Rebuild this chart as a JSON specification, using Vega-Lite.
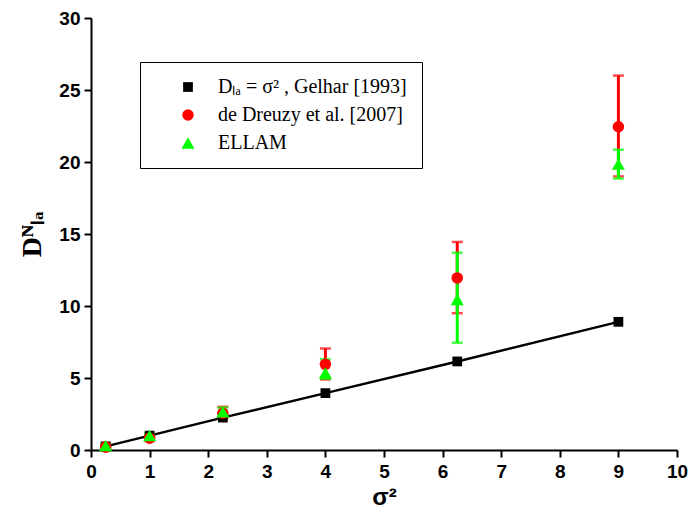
{
  "$schema": "https://vega.github.io/schema/vega-lite/v6.json",
  "width": 586,
  "height": 432,
  "autosize": {"type": "none"},
  "padding": {"left": 91, "top": 18, "right": 14, "bottom": 70},
  "background": "white",
  "config": {
    "view": {"stroke": null},
    "axis": {
      "grid": false,
      "domainColor": "black",
      "domainWidth": 2,
      "tickColor": "black",
      "tickWidth": 2,
      "tickSize": 7,
      "labelColor": "black",
      "labelFont": "Liberation Sans",
      "labelFontWeight": "bold",
      "labelFontSize": 19,
      "labelOverlap": false,
      "labelFlush": false,
      "titleColor": "black"
    }
  },
  "data": {
    "values": [
      {"series": "Gelhar", "s2": 0.25, "y": 0.25},
      {"series": "Gelhar", "s2": 1, "y": 1.0},
      {"series": "Gelhar", "s2": 2.25, "y": 2.25},
      {"series": "Gelhar", "s2": 4, "y": 3.95},
      {"series": "Gelhar", "s2": 6.25, "y": 6.15},
      {"series": "Gelhar", "s2": 9, "y": 8.9},
      {"series": "Dreuzy", "s2": 0.25, "y": 0.2, "lo": 0.1, "hi": 0.3},
      {"series": "Dreuzy", "s2": 1, "y": 0.82, "lo": 0.65, "hi": 1.0},
      {"series": "Dreuzy", "s2": 2.25, "y": 2.55, "lo": 2.2, "hi": 3.0},
      {"series": "Dreuzy", "s2": 4, "y": 5.95, "lo": 4.9, "hi": 7.05},
      {"series": "Dreuzy", "s2": 6.25, "y": 11.95, "lo": 9.5, "hi": 14.45},
      {"series": "Dreuzy", "s2": 9, "y": 22.45, "lo": 19.0, "hi": 26.0},
      {"series": "ELLAM", "s2": 0.25, "y": 0.3, "lo": 0.2, "hi": 0.4},
      {"series": "ELLAM", "s2": 1, "y": 1.0, "lo": 0.85, "hi": 1.15},
      {"series": "ELLAM", "s2": 2.25, "y": 2.65, "lo": 2.3, "hi": 2.95},
      {"series": "ELLAM", "s2": 4, "y": 5.35, "lo": 4.95, "hi": 6.3},
      {"series": "ELLAM", "s2": 6.25, "y": 10.45, "lo": 7.45, "hi": 13.7},
      {"series": "ELLAM", "s2": 9, "y": 19.85, "lo": 18.85, "hi": 20.85}
    ]
  },
  "encoding": {
    "x": {
      "field": "s2",
      "type": "quantitative",
      "scale": {"domain": [0, 10], "nice": false, "zero": false},
      "axis": {
        "title": "σ²",
        "titleFont": "Liberation Sans",
        "titleFontWeight": "bold",
        "titleFontSize": 24,
        "titlePadding": 4,
        "format": "d",
        "values": [0, 0.5, 1, 1.5, 2, 2.5, 3, 3.5, 4, 4.5, 5, 5.5, 6, 6.5, 7, 7.5, 8, 8.5, 9, 9.5, 10],
        "labelExpr": "datum.value % 1 === 0 ? datum.label : ''",
        "labelPadding": 5,
        "encode": {"ticks": {"y2": {"value": {"expr": "datum.value % 1 === 0 ? 7 : 4"}}}}
      }
    }
  },
  "layer": [
    {
      "transform": [{"filter": "datum.series === 'Gelhar'"}],
      "mark": {"type": "line", "color": "black", "strokeWidth": 2.5},
      "encoding": {
        "y": {
          "field": "y",
          "type": "quantitative",
          "title": "Dᴺₗₐ",
          "scale": {"domain": [0, 30], "nice": false},
          "axis": {
            "titleFont": "Liberation Serif",
            "titleFontWeight": "bold",
            "titleFontSize": 28,
            "titlePadding": 12,
            "format": "d",
            "values": [0, 2.5, 5, 7.5, 10, 12.5, 15, 17.5, 20, 22.5, 25, 27.5, 30],
            "labelExpr": "datum.value % 5 === 0 ? datum.label : ''",
            "labelPadding": 4,
            "encode": {"ticks": {"x2": {"value": {"expr": "datum.value % 5 === 0 ? -7 : -4"}}}}
          }
        }
      }
    },
    {
      "transform": [{"filter": "datum.series === 'Dreuzy'"}],
      "mark": {"type": "rule", "color": "#ff0000", "strokeWidth": 3},
      "encoding": {
        "y": {"field": "lo", "type": "quantitative", "title": "Dᴺₗₐ"},
        "y2": {"field": "hi"}
      }
    },
    {
      "transform": [{"filter": "datum.series === 'Dreuzy'"}],
      "mark": {"type": "tick", "orient": "horizontal", "color": "#ff0000", "size": 11, "thickness": 2.5},
      "encoding": {"y": {"field": "lo", "type": "quantitative", "title": "Dᴺₗₐ"}}
    },
    {
      "transform": [{"filter": "datum.series === 'Dreuzy'"}],
      "mark": {"type": "tick", "orient": "horizontal", "color": "#ff0000", "size": 11, "thickness": 2.5},
      "encoding": {"y": {"field": "hi", "type": "quantitative", "title": "Dᴺₗₐ"}}
    },
    {
      "transform": [{"filter": "datum.series === 'ELLAM'"}],
      "mark": {"type": "rule", "color": "#00ff00", "strokeWidth": 3},
      "encoding": {
        "y": {"field": "lo", "type": "quantitative", "title": "Dᴺₗₐ"},
        "y2": {"field": "hi"}
      }
    },
    {
      "transform": [{"filter": "datum.series === 'ELLAM'"}],
      "mark": {"type": "tick", "orient": "horizontal", "color": "#00ff00", "size": 11, "thickness": 2.5},
      "encoding": {"y": {"field": "lo", "type": "quantitative", "title": "Dᴺₗₐ"}}
    },
    {
      "transform": [{"filter": "datum.series === 'ELLAM'"}],
      "mark": {"type": "tick", "orient": "horizontal", "color": "#00ff00", "size": 11, "thickness": 2.5},
      "encoding": {"y": {"field": "hi", "type": "quantitative", "title": "Dᴺₗₐ"}}
    },
    {
      "mark": {"type": "point", "filled": true, "opacity": 1},
      "encoding": {
        "y": {"field": "y", "type": "quantitative", "title": "Dᴺₗₐ"},
        "color": {
          "field": "series",
          "type": "nominal",
          "scale": {"domain": ["Gelhar", "Dreuzy", "ELLAM"], "range": ["black", "#ff0000", "#00ff00"]},
          "legend": {
            "title": null,
            "orient": "none",
            "legendX": 49,
            "legendY": 44,
            "padding": 15,
            "strokeColor": "black",
            "fillColor": "white",
            "labelFont": "Liberation Serif",
            "labelFontSize": 20,
            "labelColor": "black",
            "labelLimit": 400,
            "rowPadding": 8,
            "symbolSize": 100,
            "symbolOffset": 23,
            "labelOffset": 20,
            "labelExpr": "datum.value === 'Gelhar' ? '\u00a0\u00a0Dₗₐ = σ² , Gelhar [1993]\u00a0\u00a0\u00a0\u00a0\u00a0\u00a0' : datum.value === 'Dreuzy' ? 'de Dreuzy et al. [2007]' : 'ELLAM'",
            "encode": {
              "symbols": {
                "shape": {"value": {"expr": "datum.value === 'Gelhar' ? 'M-5,-0.22H5V0.22H-5ZM-0.9,-0.9H0.9V0.9H-0.9Z' : datum.value === 'Dreuzy' ? 'circle' : 'triangle-up'"}}
              }
            }
          }
        },
        "shape": {
          "field": "series",
          "type": "nominal",
          "scale": {"domain": ["Gelhar", "Dreuzy", "ELLAM"], "range": ["square", "circle", "triangle-up"]},
          "legend": null
        },
        "size": {
          "field": "series",
          "type": "nominal",
          "scale": {"domain": ["Gelhar", "Dreuzy", "ELLAM"], "range": [95, 170, 130]},
          "legend": null
        }
      }
    }
  ]
}
